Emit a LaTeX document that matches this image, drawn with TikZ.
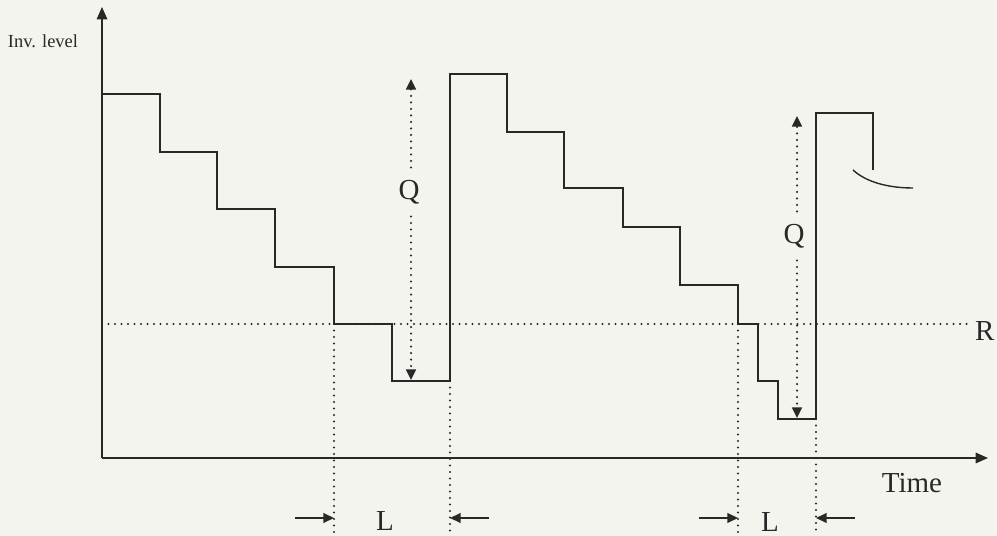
\documentclass[tikz,border=0pt]{standalone}
\usepackage{fontspec}
\setmainfont{Liberation Serif}
\usetikzlibrary{arrows.meta}

\definecolor{paper}{RGB}{244,244,239}
\definecolor{ink}{RGB}{40,40,40}

\tikzset{
  curve/.style   = {draw = ink, line width = 0.8pt},
  dots/.style    = {draw = ink, line width = 1.3pt, line cap = round,
                    dash pattern = on 0pt off 3.7pt},
  tip/.style     = {-{Triangle[length = 7pt, width = 6pt]}},
  ltip/.style    = {-{Triangle[length = 6pt, width = 5.5pt]}},
  lbl/.style     = {text = ink, font = \fontsize{16.5}{18}\selectfont, inner sep = 1pt},
}

\begin{document}
\begin{tikzpicture}[x = 0.02cm, y = -0.02cm]

\fill [paper] (0,0) rectangle (997,536);
\useasboundingbox (0,0) rectangle (997,536);

%% Draw Axes

\coordinate (o)    at (102,458);
\coordinate (ytop) at (102,7);
\coordinate (xend) at (988,458);

\draw [curve, tip] (o) -- (ytop);
\draw [curve, tip] (o) -- (xend);

\node (ylabel) [text = ink, font = \fontsize{10.5}{12}\selectfont] at (43,41) {Inv. level};
\node (xlabel) [lbl] at (912,483) {Time};

%% Reorder point

\coordinate (rstart) at (102,324);
\coordinate (rend)   at (968,324);
\draw [dots] (rstart) -- (rend);
\node (rlabel) [lbl, anchor = west] at (973,331) {R};

%% Draw Inventory

\draw [curve] (102,94) -- (160,94) -- (160,152) -- (217,152) -- (217,209)
              -- (275,209) -- (275,267) -- (334,267) -- (334,324)
              -- (392,324) -- (392,381) -- (450,381) -- (450,74)
              -- (507,74) -- (507,132) -- (564,132) -- (564,188)
              -- (623,188) -- (623,227) -- (680,227) -- (680,285)
              -- (738,285) -- (738,324) -- (758,324) -- (758,381)
              -- (778,381) -- (778,419) -- (816,419) -- (816,113)
              -- (873,113) -- (873,170);

\draw [curve] (853,170) .. controls (866,182) and (888,188) .. (913,188);

%% Lead times

\foreach \x / \y in {334/324, 450/381, 738/324, 816/419}{
  \draw [dots] (\x,\y) -- (\x,536);
}

\coordinate (l1a) at (334,518);
\coordinate (l1b) at (450,518);
\coordinate (l2a) at (738,518);
\coordinate (l2b) at (816,518);

\draw [curve, ltip] (295,518) -- (l1a);
\draw [curve, ltip] (489,518) -- (l1b);
\draw [curve, ltip] (699,518) -- (l2a);
\draw [curve, ltip] (855,518) -- (l2b);

\node (l1) [lbl] at (385,521) {L};
\node (l2) [lbl] at (770,522) {L};

%% Order quantities

\node (q1) [lbl, inner sep = 7pt] at (409,192) {Q};
\coordinate (q1top) at (411,79);
\coordinate (q1bot) at (411,380);
\draw [dots, ltip] (q1.north -| q1top) -- (q1top);
\draw [dots, ltip] (q1.south -| q1bot) -- (q1bot);

\node (q2) [lbl, inner sep = 7pt] at (794,236) {Q};
\coordinate (q2top) at (797,116);
\coordinate (q2bot) at (797,418);
\draw [dots, ltip] (q2.north -| q2top) -- (q2top);
\draw [dots, ltip] (q2.south -| q2bot) -- (q2bot);

\end{tikzpicture}
\end{document}
